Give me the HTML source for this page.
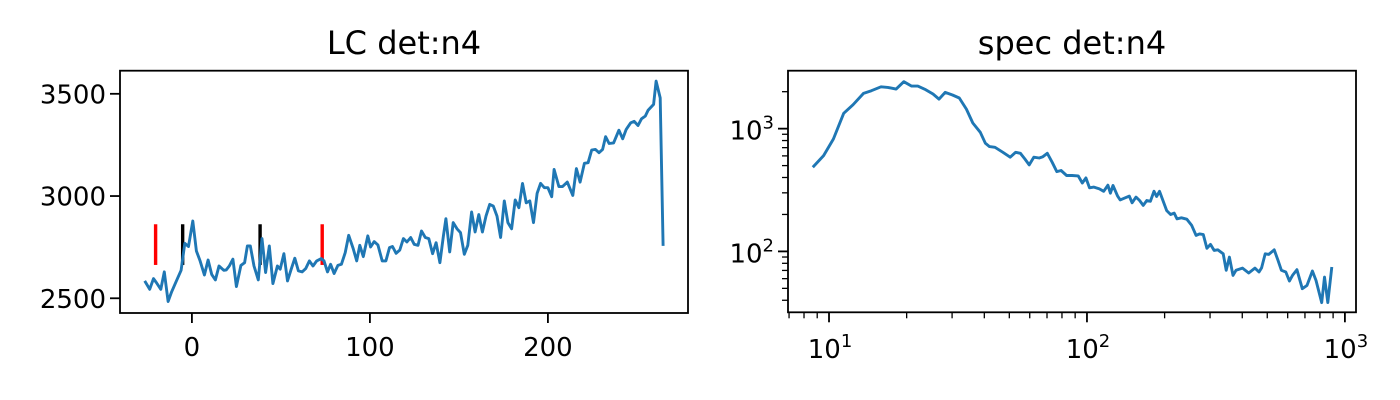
<!DOCTYPE html>
<html><head><meta charset="utf-8"><style>
html,body{margin:0;padding:0;background:#fff;}
svg{display:block;font-family:"DejaVu Sans","Liberation Sans",sans-serif;}
</style></head>
<body>
<svg id="fig" width="1400" height="400" viewBox="0 0 1400 400"></svg>
<script>
// ---- LC data ----
const lcTimes=[-26.5,-23.7,-21.6,-20.0,-17.5,-15.5,-13.4,-11.4,-8.7,-6.1,-4.0,-1.9,0.5,2.5,4.6,7.0,9.1,11.1,13.2,15.2,17.9,19.3,21.0,23.0,25.0,27.5,29.6,31.2,32.8,34.9,37.3,39.4,41.4,43.5,45.5,48.0,49.6,51.7,53.7,55.8,57.8,59.8,61.9,63.9,66.0,68.0,70.1,72.7,74.2,76.2,77.9,79.9,82.0,84.0,86.1,88.1,90.6,92.6,94.3,96.3,98.8,100.4,102.4,104.5,106.9,109.0,111.0,112.7,114.7,116.8,118.8,120.8,122.9,124.9,127.0,129.0,131.1,133.1,135.2,137.2,139.3,141.3,142.7,144.8,146.8,148.9,150.9,153.0,155.0,157.1,159.1,161.2,163.2,165.2,167.3,169.3,171.4,173.4,175.5,177.5,179.6,181.6,183.7,185.7,187.8,189.8,191.9,193.9,195.9,198.0,200.0,202.1,203.5,206.2,208.2,210.9,214.0,216.0,218.1,220.5,222.6,224.6,226.7,228.7,230.7,232.4,234.4,236.9,239.9,242.0,244.0,246.5,248.5,250.6,252.6,254.7,256.3,259.4,260.8,263.1,264.7];
const lcCounts=[2585,2544,2596,2577,2544,2629,2484,2531,2585,2637,2769,2753,2878,2731,2683,2614,2687,2617,2590,2658,2637,2639,2658,2691,2557,2661,2674,2756,2756,2658,2590,2792,2626,2756,2572,2658,2642,2718,2585,2642,2696,2634,2629,2645,2683,2658,2683,2694,2683,2629,2666,2621,2661,2666,2723,2808,2743,2683,2759,2704,2805,2751,2777,2761,2683,2683,2748,2753,2720,2736,2792,2775,2797,2764,2759,2829,2797,2792,2718,2772,2674,2805,2889,2727,2870,2840,2821,2715,2759,2922,2824,2909,2824,2902,2959,2951,2902,2797,2976,2870,2840,2981,2943,3062,2967,2976,2870,3013,3062,3041,3041,2997,3130,3046,3046,3068,3003,3134,3068,3160,3163,3225,3228,3212,3228,3290,3257,3260,3322,3280,3326,3358,3365,3345,3378,3391,3420,3448,3562,3480,2756];
const redMarks=[-20.4,73.2];
const blackMarks=[-5.2,38.3];
const markRange=[2663,2862];
const lcXTicks=[0,100,200];
const lcYTicks=[2500,3000,3500];
// ---- spectrum data ----
const specFreqs=[8.65,9.53,10.4,11.4,12.4,13.6,14.6,15.9,16.9,18.2,19.5,20.9,22.1,23.7,25.3,26.7,28.2,30.1,32.0,34.1,36.1,38.6,40.4,41.9,44.0,47.2,50.4,52.9,55.2,57.4,59.7,62.2,65.3,67.5,70.2,73.3,76.4,79.4,83.4,87.5,92.5,95.9,99.1,102.3,106.4,111.7,116.1,120.5,123.3,126.2,131.5,134.6,140.3,145.9,149.6,154.9,160.0,165.2,170.6,176.2,182.0,186.2,191.0,203.7,210.9,217.8,223.4,232.3,243.8,254.7,264.8,273.5,282.5,291.7,301.3,311.2,321.4,337.3,346.7,356.5,368.1,378.4,400.9,423.6,447.7,464.5,475.3,490.9,507.0,532.1,549.5,567.5,590.2,609.5,626.6,651.6,683.9,712.8,748.2,772.7,812.8,833.7,858.7,889.3];
const specPower=[485,603,824,1333,1567,1937,2037,2193,2167,2100,2410,2222,2222,2075,1914,1742,1974,1878,1776,1444,1112,934,760,714,705,642,585,642,630,567,507,585,577,591,630,532,447,456,415,415,412,361,397,330,334,323,309,346,298,344,282,263,273,282,249,277,260,237,260,256,309,280,309,215,200,205,184,188,183,163,135,139,137,106,114,102,103,95.7,70.1,89.9,63.8,70.1,73.1,66.7,73.1,67.9,73.6,95.7,94.6,103,85.5,70.1,67.9,57.4,63.8,71.0,49.7,52.9,69.2,58.1,38.3,61.8,38.3,74.6];
const specXTicks=[1,2,3];
const specYTicks=[2,3];

const NS="http://www.w3.org/2000/svg";
const svg=document.getElementById('fig');
function mk(tag,attrs,parent){const e=document.createElementNS(NS,tag);for(const k in attrs)e.setAttribute(k,attrs[k]);(parent||svg).appendChild(e);return e;}
const TF=26, SF=18, TL=10, AW=1.8;

// ---- LC axes ----
const L={x0:120,x1:688,y0:70.7,y1:313};
const lxMin=-40.4,lxMax=278.7,lyMin=2428,lyMax=3613;
const lx=v=>L.x0+(v-lxMin)/(lxMax-lxMin)*(L.x1-L.x0);
const ly=v=>L.y1-(v-lyMin)/(lyMax-lyMin)*(L.y1-L.y0);
const g1=mk('g',{});


const t1=mk('text',{x:(L.x0+L.x1)/2,y:54,'text-anchor':'middle','font-size':'32'},g1);
t1.textContent='LC det:n4';


for(const m of redMarks){const r=mk('line',{x1:lx(m),x2:lx(m),y1:ly(markRange[0]),y2:ly(markRange[1]),stroke:'#ff0000','stroke-width':3.4},g1);

}
for(const m of blackMarks){const r=mk('line',{x1:lx(m),x2:lx(m),y1:ly(markRange[0]),y2:ly(markRange[1]),stroke:'#000','stroke-width':3.4},g1);

}
const lcPath=mk('path',{d:lcTimes.map((t,i)=>(i?'L':'M')+lx(t).toFixed(1)+' '+ly(lcCounts[i]).toFixed(1)).join(''),fill:'none',stroke:'#1f77b4','stroke-width':2.9,'stroke-linejoin':'round'},g1);


const f1=mk('rect',{x:L.x0,y:L.y0,width:L.x1-L.x0,height:L.y1-L.y0,fill:'none',stroke:'#000','stroke-width':AW},g1);


for(const v of lcXTicks){mk('line',{x1:lx(v),x2:lx(v),y1:L.y1,y2:L.y1+TL,stroke:'#000','stroke-width':AW},g1);
const tx=mk('text',{x:lx(v),y:356,'text-anchor':'middle','font-size':TF},g1);tx.textContent=v;

}
for(const v of lcYTicks){mk('line',{x1:L.x0-TL,x2:L.x0,y1:ly(v),y2:ly(v),stroke:'#000','stroke-width':AW},g1);
const ty=mk('text',{x:L.x0-14,y:ly(v)+9.5,'text-anchor':'end','font-size':TF},g1);ty.textContent=v;

}

// ---- Spectrum axes ----
const R={x0:788,x1:1356,y0:70.7,y1:312.3};
const sxMin=0.841,sxMax=3.043,syMin=1.504,syMax=3.472;
const sx=v=>R.x0+(Math.log10(v)-sxMin)/(sxMax-sxMin)*(R.x1-R.x0);
const sy=v=>R.y1-(Math.log10(v)-syMin)/(syMax-syMin)*(R.y1-R.y0);
const g2=mk('g',{});


const t2=mk('text',{x:(R.x0+R.x1)/2,y:54,'text-anchor':'middle','font-size':'32'},g2);
t2.textContent='spec det:n4';


const spPath=mk('path',{d:specFreqs.map((f,i)=>(i?'L':'M')+sx(f).toFixed(1)+' '+sy(specPower[i]).toFixed(1)).join(''),fill:'none',stroke:'#1f77b4','stroke-width':2.9,'stroke-linejoin':'round'},g2);


const f2=mk('rect',{x:R.x0,y:R.y0,width:R.x1-R.x0,height:R.y1-R.y0,fill:'none',stroke:'#000','stroke-width':AW},g2);


for(let d=0;d<=3;d++)for(let k=1;k<10;k++){const v=k*Math.pow(10,d);const x=sx(v);if(x<R.x0-0.5||x>R.x1+0.5)continue;
mk('line',{x1:x,x2:x,y1:R.y1,y2:R.y1+(k===1?TL:6),stroke:'#000','stroke-width':k===1?AW:1.3},g2);}
for(let d=1;d<=3;d++)for(let k=1;k<10;k++){const v=k*Math.pow(10,d);const y=sy(v);if(y<R.y0-0.5||y>R.y1+0.5)continue;
mk('line',{x1:R.x0-(k===1?TL:6),x2:R.x0,y1:y,y2:y,stroke:'#000','stroke-width':k===1?AW:1.3},g2);}
for(const e of specXTicks){const tx=mk('text',{x:sx(Math.pow(10,e))+1,y:358,'text-anchor':'middle','font-size':TF},g2);
tx.innerHTML='10<tspan dy="-11" font-size="'+SF+'">'+e+'</tspan>';

}
for(const e of specYTicks){const ty=mk('text',{x:R.x0-14,y:sy(Math.pow(10,e))+11,'text-anchor':'end','font-size':TF},g2);
ty.innerHTML='10<tspan dy="-11" font-size="'+SF+'">'+e+'</tspan>';

}
</script>
</body></html>
